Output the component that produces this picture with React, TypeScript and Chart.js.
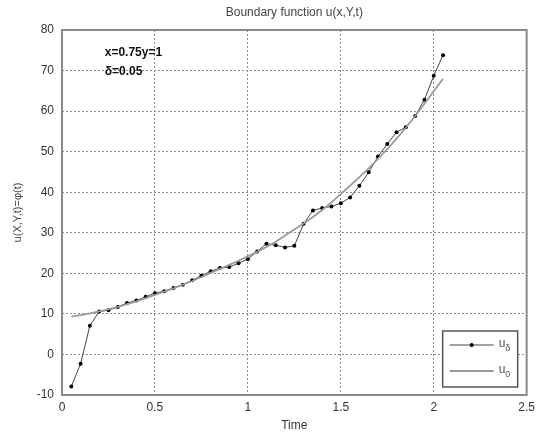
import React, { useEffect, useRef } from "react";
import { Chart, registerables } from "chart.js";

Chart.register(...registerables);

const times = [
  0.05, 0.1, 0.15, 0.2, 0.25, 0.3, 0.35, 0.4, 0.45, 0.5,
  0.55, 0.6, 0.65, 0.7, 0.75, 0.8, 0.85, 0.9, 0.95, 1.0,
  1.05, 1.1, 1.15, 1.2, 1.25, 1.3, 1.35, 1.4, 1.45, 1.5,
  1.55, 1.6, 1.65, 1.7, 1.75, 1.8, 1.85, 1.9, 1.95, 2.0, 2.05,
];

const uDelta = [
  -7.9, -2.3, 7.1, 10.6, 10.9, 11.7, 12.7, 13.3, 14.2, 15.1,
  15.6, 16.4, 17.2, 18.3, 19.4, 20.5, 21.3, 21.55, 22.5, 23.5,
  25.4, 27.3, 26.9, 26.4, 26.8, 32.2, 35.5, 36.1, 36.5, 37.3,
  38.7, 41.6, 44.9, 48.8, 51.9, 54.8, 56.0, 58.8, 62.8, 68.7, 73.8,
];

const u0 = [
  9.3, 9.7, 10.1, 10.6, 11.1, 11.7, 12.4, 13.1, 13.9, 14.7,
  15.5, 16.3, 17.2, 18.1, 19.1, 20.1, 21.1, 22.1, 23.1, 24.2,
  25.3, 26.5, 27.8, 29.3, 30.8, 32.3, 33.9, 35.6, 37.5, 39.6,
  41.6, 43.7, 45.9, 48.2, 50.6, 53.2, 55.9, 58.8, 61.8, 64.9, 68.0,
];

const xTicks = [0, 0.5, 1, 1.5, 2, 2.5];
const yTicks = [-10, 0, 10, 20, 30, 40, 50, 60, 70, 80];

const titleText = "Boundary function u(x,Y,t)";
const xTitle = "Time";
const yTitle = "u(X,Y,t)=\u03c6(t)";
const noteLines = ["x=0.75y=1", "\u03b4=0.05"];
const notePos = { t: 0.23, u: [74.3, 69.6] };
const legendLabels = [
  { base: "u", sub: "\u03b4" },
  { base: "u", sub: "0" },
];

const FONT = "'Liberation Sans', Arial, sans-serif";

const overlayPlugin = {
  id: "overlay",
  afterDatasetsDraw(chart: any) {
    const { ctx, chartArea: a, scales } = chart;
    ctx.save();
    // frame
    ctx.strokeStyle = "#8a8a8a";
    ctx.lineWidth = 2;
    ctx.strokeRect(a.left, a.top, a.right - a.left, a.bottom - a.top);

    // title
    ctx.fillStyle = "#444";
    ctx.font = `12px ${FONT}`;
    ctx.textAlign = "center";
    ctx.textBaseline = "middle";
    ctx.fillText(titleText, (a.left + a.right) / 2, 13);

    // annotation
    ctx.fillStyle = "#111";
    ctx.font = `bold 12px ${FONT}`;
    ctx.textAlign = "left";
    const nx = scales.x.getPixelForValue(notePos.t);
    noteLines.forEach((s, i) => {
      ctx.fillText(s, nx, scales.y.getPixelForValue(notePos.u[i]));
    });

    // legend box
    const bx = a.right - 84;
    const by = a.bottom - 64;
    const bw = 75;
    const bh = 56;
    ctx.fillStyle = "#fff";
    ctx.fillRect(bx, by, bw, bh);
    ctx.strokeStyle = "#555";
    ctx.lineWidth = 1.5;
    ctx.strokeRect(bx, by, bw, bh);
    const rows = [by + 14, by + 40];
    const styles = [
      { color: "#444", width: 1, dot: true },
      { color: "#999", width: 2, dot: false },
    ];
    rows.forEach((ry, i) => {
      const st = styles[i];
      ctx.strokeStyle = st.color;
      ctx.lineWidth = st.width;
      ctx.beginPath();
      ctx.moveTo(bx + 7, ry);
      ctx.lineTo(bx + 51, ry);
      ctx.stroke();
      if (st.dot) {
        ctx.fillStyle = "#000";
        ctx.beginPath();
        ctx.arc(bx + 29, ry, 2, 0, Math.PI * 2);
        ctx.fill();
      }
      ctx.fillStyle = "#555";
      ctx.font = `12px ${FONT}`;
      ctx.textBaseline = "middle";
      ctx.fillText(legendLabels[i].base, bx + 56, ry - 1);
      const w = ctx.measureText(legendLabels[i].base).width;
      ctx.font = `9px ${FONT}`;
      ctx.fillText(legendLabels[i].sub, bx + 56 + w, ry + 4);
    });
    ctx.restore();
  },
};

export default function App() {
  const ref = useRef<HTMLCanvasElement>(null);
  useEffect(() => {
    document.body.style.margin = "0";
    if (!ref.current) return;
    const chart = new Chart(ref.current, {
      type: "scatter",
      data: {
        datasets: [
          {
            label: "u0",
            data: times.map((t, i) => ({ x: t, y: u0[i] })),
            showLine: true,
            borderColor: "#9a9a9a",
            borderWidth: 1.8,
            pointRadius: 0,
          },
          {
            label: "udelta",
            data: times.map((t, i) => ({ x: t, y: uDelta[i] })),
            showLine: true,
            borderColor: "#444",
            borderWidth: 1,
            pointRadius: 2,
            pointBackgroundColor: "#000",
            pointBorderWidth: 0,
          },
        ],
      },
      options: {
        animation: false,
        responsive: false,
        layout: { padding: { top: 30, right: 10, left: 0, bottom: 0 } },
        plugins: {
          legend: { display: false },
          title: { display: false },
          tooltip: { enabled: false },
        },
        scales: {
          x: {
            type: "linear",
            min: 0,
            max: 2.5,
            afterBuildTicks: (s: any) => {
              s.ticks = xTicks.map((v) => ({ value: v }));
            },
            afterFit: (s: any) => {
              s.height = 42;
            },
            ticks: {
              color: "#333",
              font: { family: FONT, size: 12 },
              padding: 5,
              maxRotation: 0,
              callback: (v: any) => String(v),
            },
            grid: { color: "#8c8c8c", drawTicks: false, lineWidth: 1 },
            border: { display: false, dash: [2, 2] },
            title: {
              display: true,
              text: xTitle,
              color: "#333",
              font: { family: FONT, size: 12 },
              padding: { top: 2, bottom: 4 },
            },
          },
          y: {
            type: "linear",
            min: -10,
            max: 80,
            afterBuildTicks: (s: any) => {
              s.ticks = yTicks.map((v) => ({ value: v }));
            },
            afterFit: (s: any) => {
              s.width = 62;
            },
            ticks: {
              color: "#333",
              font: { family: FONT, size: 12 },
              padding: 8,
              callback: (v: any) => String(v),
            },
            grid: { color: "#8c8c8c", drawTicks: false, lineWidth: 1 },
            border: { display: false, dash: [2, 2] },
            title: {
              display: true,
              text: yTitle,
              color: "#444",
              font: { family: FONT, size: 11 },
              padding: { top: 11, bottom: 0 },
            },
          },
        },
      },
      plugins: [overlayPlugin],
    });
    return () => chart.destroy();
  }, []);
  return (
    <div style={{ width: 540, height: 437, background: "#fff" }}>
      <canvas ref={ref} width={540} height={437} />
    </div>
  );
}
